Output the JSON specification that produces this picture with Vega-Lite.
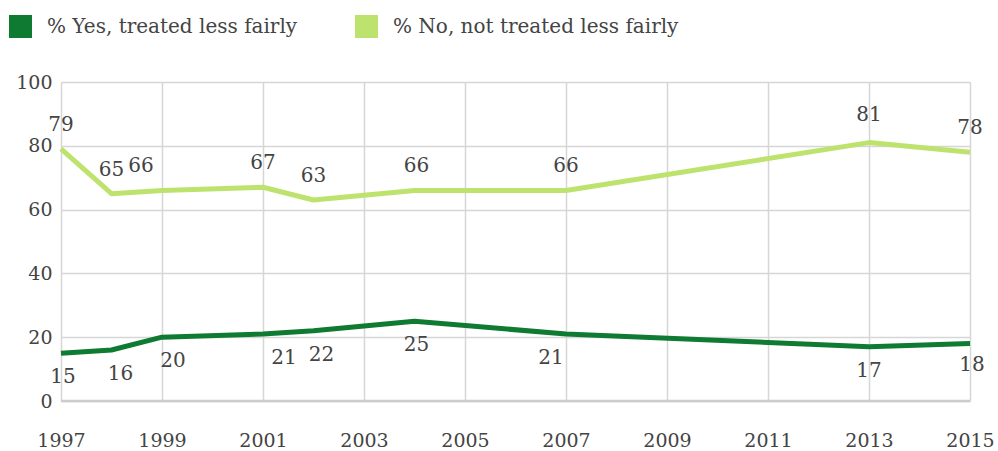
{
  "$schema": "https://vega.github.io/schema/vega-lite/v6.json",
  "width": 909,
  "height": 319,
  "autosize": {"type": "none"},
  "padding": {"left": 61, "top": 82, "right": 28, "bottom": 50},
  "background": "white",
  "config": {
    "view": {"stroke": null},
    "font": "DejaVu Serif",
    "axis": {"labelFont": "DejaVu Serif", "labelFontSize": 19, "labelColor": "#444444", "gridColor": "#d6d6d6", "gridWidth": 1.5, "ticks": false, "domain": false, "title": null}
  },
  "data": {
    "values": [
      {"year": 1997, "series": "% Yes, treated less fairly", "value": 15},
      {"year": 1998, "series": "% Yes, treated less fairly", "value": 16},
      {"year": 1999, "series": "% Yes, treated less fairly", "value": 20},
      {"year": 2001, "series": "% Yes, treated less fairly", "value": 21},
      {"year": 2002, "series": "% Yes, treated less fairly", "value": 22},
      {"year": 2004, "series": "% Yes, treated less fairly", "value": 25},
      {"year": 2007, "series": "% Yes, treated less fairly", "value": 21},
      {"year": 2013, "series": "% Yes, treated less fairly", "value": 17},
      {"year": 2015, "series": "% Yes, treated less fairly", "value": 18},
      {"year": 1997, "series": "% No, not treated less fairly", "value": 79},
      {"year": 1998, "series": "% No, not treated less fairly", "value": 65},
      {"year": 1999, "series": "% No, not treated less fairly", "value": 66},
      {"year": 2001, "series": "% No, not treated less fairly", "value": 67},
      {"year": 2002, "series": "% No, not treated less fairly", "value": 63},
      {"year": 2004, "series": "% No, not treated less fairly", "value": 66},
      {"year": 2007, "series": "% No, not treated less fairly", "value": 66},
      {"year": 2013, "series": "% No, not treated less fairly", "value": 81},
      {"year": 2015, "series": "% No, not treated less fairly", "value": 78}
    ]
  },
  "encoding": {
    "x": {
      "field": "year", "type": "quantitative",
      "scale": {"domain": [1997, 2015], "nice": false, "zero": false},
      "axis": {"values": [1997, 1999, 2001, 2003, 2005, 2007, 2009, 2011, 2013, 2015], "format": "d", "labelPadding": 30, "labelFlush": false}
    },
    "y": {
      "field": "value", "type": "quantitative",
      "scale": {"domain": [0, 100], "nice": false},
      "axis": {"values": [0, 20, 40, 60, 80, 100], "labelPadding": 9}
    }
  },
  "layer": [
    {
      "mark": {"type": "rule", "color": "#cccccc", "strokeWidth": 2.5},
      "data": {"values": [{"v": 0}]},
      "encoding": {"y": {"field": "v", "type": "quantitative"}, "x": null}
    },
    {
      "mark": {"type": "line", "strokeWidth": 5, "strokeJoin": "round", "strokeCap": "butt"},
      "encoding": {
        "color": {
          "field": "series", "type": "nominal",
          "scale": {"domain": ["% Yes, treated less fairly", "% No, not treated less fairly"], "range": ["#0e7a32", "#bde36e"]},
          "legend": {
            "title": null, "orient": "none", "legendX": -52, "legendY": -67, "direction": "horizontal",
            "symbolType": "square", "symbolSize": 529, "symbolStrokeWidth": 0, "symbolOpacity": 1,
            "labelFont": "DejaVu Serif", "labelFontSize": 20, "labelColor": "#444444", "labelLimit": 500,
            "labelOffset": 15, "columnPadding": 57,
            "encode": {"symbols": {"update": {"fill": {"scale": "color", "field": "value"}, "fillOpacity": {"value": 1}}}}
          }
        }
      }
    },
    {
      "transform": [{"filter": "datum.series === '% No, not treated less fairly'"}],
      "mark": {
        "type": "text", "baseline": "middle", "fontSize": 20, "color": "#444444", "font": "DejaVu Serif",
        "dx": {"expr": "datum.year === 1999 ? -21 : datum.year === 2004 ? 2 : 0"},
        "dy": {"expr": "datum.year === 2013 ? -28 : -24"}
      },
      "encoding": {"text": {"field": "value", "type": "quantitative"}}
    },
    {
      "transform": [{"filter": "datum.series === '% Yes, treated less fairly'"}],
      "mark": {
        "type": "text", "baseline": "middle", "fontSize": 20, "color": "#444444", "font": "DejaVu Serif",
        "dx": {"expr": "datum.year === 1998 ? 9 : datum.year === 1999 ? 11 : datum.year === 2001 ? 21 : datum.year === 2002 ? 8 : datum.year === 2007 ? -15 : datum.year === 1997 || datum.year === 2004 || datum.year === 2015 ? 2 : 0"},
        "dy": {"expr": "datum.year === 2015 ? 21 : 24"}
      },
      "encoding": {"text": {"field": "value", "type": "quantitative"}}
    }
  ]
}
